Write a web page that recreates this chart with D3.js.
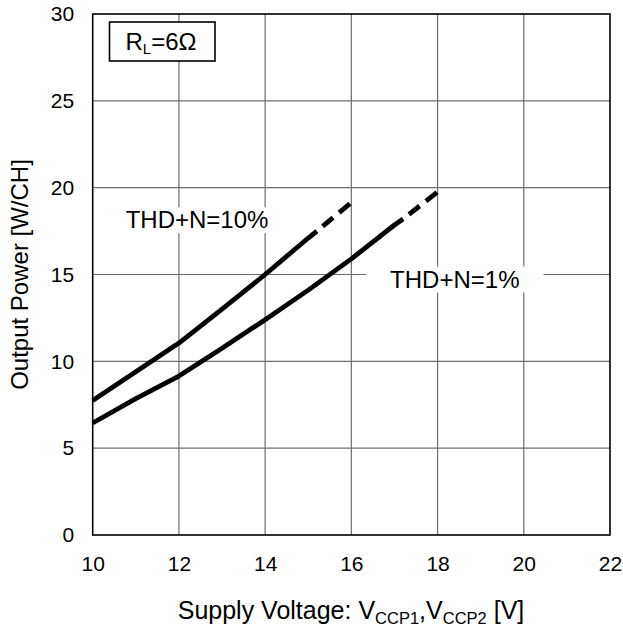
<!DOCTYPE html>
<html>
<head>
<meta charset="utf-8">
<script src="https://cdn.jsdelivr.net/npm/d3@7"></script>
<style>
  body { margin: 0; background: #fff; }
  text { font-family: "Liberation Sans", Arial, sans-serif; }
</style>
</head>
<body>
<svg id="chart" width="623" height="634"></svg>
<script>
// ---- data ----
const xTicks = [10, 12, 14, 16, 18, 20, 22];
const yTicks = [0, 5, 10, 15, 20, 25, 30];

const thd10_x = [10, 11, 12, 13, 14, 15, 15.2, 16];
const thd10_y = [7.75, 9.4, 11.05, 13.0, 15.0, 17.1, 17.5, 19.15];
const thd10_dashFrom = 15.2;

const thd1_x = [10, 11, 12, 13, 14, 15, 16, 17, 17.2, 18];
const thd1_y = [6.45, 7.85, 9.15, 10.75, 12.4, 14.1, 15.9, 17.85, 18.2, 19.75];
const thd1_dashFrom = 17.2;

const labels = [
  { text: "THD+N=10%", x: 12.42, y: 18.15 },
  { text: "THD+N=1%", x: 18.4, y: 14.74 }
];

// ---- layout ----
const svg = d3.select("#chart");
const margin = { left: 92.7, right: 13, top: 14, bottom: 99 };
const W = 623, H = 634;
const x = d3.scaleLinear().domain([10, 22]).range([margin.left, W - margin.right]);
const y = d3.scaleLinear().domain([0, 30]).range([H - margin.bottom, margin.top]);

// grid
const g = svg.append("g");
g.selectAll(".vg").data(xTicks.slice(1, -1)).enter().append("line")
  .attr("x1", d => x(d)).attr("x2", d => x(d))
  .attr("y1", y(0)).attr("y2", y(30))
  .attr("stroke", "#6e6e6e").attr("stroke-width", 1.2);
g.selectAll(".hg").data(yTicks.slice(1, -1)).enter().append("line")
  .attr("x1", x(10)).attr("x2", x(22))
  .attr("y1", d => y(d)).attr("y2", d => y(d))
  .attr("stroke", "#6e6e6e").attr("stroke-width", 1.2);

// axes (labels only, via d3 axis)
const xAxis = d3.axisBottom(x).tickValues(xTicks).tickSize(0).tickPadding(21);
const yAxis = d3.axisLeft(y).tickValues(yTicks).tickSize(0).tickPadding(18.5);
const gx = svg.append("g").attr("transform", `translate(0,${y(0)})`).call(xAxis);
const gy = svg.append("g").attr("transform", `translate(${x(10)},0)`).call(yAxis);
[gx, gy].forEach(a => {
  a.select(".domain").remove();
  a.selectAll("text").attr("font-size", 21).attr("fill", "#000")
    .attr("font-family", "Liberation Sans, Arial, sans-serif");
});

// label backgrounds + text
const lg = svg.append("g");
labels.forEach(l => {
  const t = lg.append("text").attr("x", x(l.x)).attr("y", y(l.y))
    .attr("text-anchor", "middle").attr("dominant-baseline", "central")
    .attr("font-size", 24).attr("fill", "#000").text(l.text);
  const bb = t.node().getBBox();
  lg.insert("rect", "text")
    .attr("x", bb.x - 24).attr("y", bb.y + 1)
    .attr("width", bb.width + 48).attr("height", bb.height - 1)
    .attr("fill", "#fff");
});

// curves
const line = d3.line().x(d => x(d[0])).y(d => y(d[1]));
function drawSeries(xs, ys, dashFrom) {
  const pts = xs.map((v, i) => [v, ys[i]]);
  const solid = pts.filter(p => p[0] <= dashFrom);
  const dashed = pts.filter(p => p[0] >= dashFrom);
  svg.append("path").attr("d", line(solid)).attr("fill", "none")
    .attr("stroke", "#000").attr("stroke-width", 4.8).attr("stroke-linejoin", "round");
  svg.append("path").attr("d", line(dashed)).attr("fill", "none")
    .attr("stroke", "#000").attr("stroke-width", 4.8)
    .attr("stroke-dasharray", "0 7.5 13.5 8 14 100");
}
drawSeries(thd10_x, thd10_y, thd10_dashFrom);
drawSeries(thd1_x, thd1_y, thd1_dashFrom);

// frame
svg.append("rect").attr("x", x(10)).attr("y", y(30))
  .attr("width", x(22) - x(10)).attr("height", y(0) - y(30))
  .attr("fill", "none").attr("stroke", "#000").attr("stroke-width", 1.6);

// legend box R_L=6Ω
svg.append("rect").attr("x", 109.5).attr("y", 22).attr("width", 105.5).attr("height", 39)
  .attr("fill", "#fff").attr("stroke", "#000").attr("stroke-width", 1.6);
const lt = svg.append("text").attr("x", 161).attr("y", 50).attr("text-anchor", "middle")
  .attr("font-size", 24).attr("fill", "#000");
lt.append("tspan").text("R");
lt.append("tspan").attr("font-size", 15).attr("dy", 4).text("L");
lt.append("tspan").attr("dy", -4).text("=6Ω");

// axis titles
const xt = svg.append("text").attr("x", 351).attr("y", 619).attr("text-anchor", "middle")
  .attr("font-size", 25).attr("fill", "#000");
xt.append("tspan").text("Supply Voltage: V");
xt.append("tspan").attr("font-size", 16.5).attr("dy", 5).text("CCP1");
xt.append("tspan").attr("dy", -5).text(",V");
xt.append("tspan").attr("font-size", 16.5).attr("dy", 5).text("CCP2");
xt.append("tspan").attr("dy", -5).text(" [V]");

svg.append("text").attr("transform", `translate(28,${(y(0) + y(30)) / 2}) rotate(-90)`)
  .attr("text-anchor", "middle").attr("font-size", 24).attr("fill", "#000")
  .text("Output Power [W/CH]");
</script>
</body>
</html>
